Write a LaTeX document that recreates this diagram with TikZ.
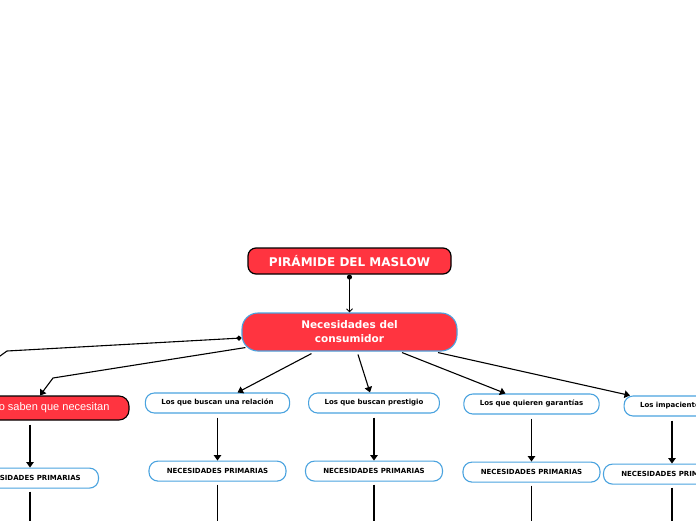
\documentclass[tikz,border=0pt]{standalone}
\usepackage{fontspec}
\setmainfont{DejaVu Sans}
\newfontfamily\arialfont{Liberation Sans}
\usepackage{tikz}
\usetikzlibrary{arrows.meta, positioning, calc}
\definecolor{mapred}{RGB}{255,52,64}
\definecolor{mapblue}{RGB}{74,163,223}

\begin{document}
\begin{tikzpicture}[
    x=1pt, y=-1pt,
    node distance=47pt,
    titlebox/.style={draw=black, fill=mapred, text=white, line width=1.2pt, rounded corners=8pt,
        minimum width=203pt, minimum height=26pt, font=\bfseries\fontsize{12}{14}\selectfont},
    mainbox/.style={draw=mapblue, fill=mapred, text=white, line width=1.1pt, rounded corners=16pt,
        align=center, minimum width=215pt, minimum height=38pt, font=\bfseries\fontsize{10.5}{14}\selectfont},
    redbox/.style={draw=black, fill=mapred, text=white, line width=1.1pt, rounded corners=10pt,
        minimum width=198pt, minimum height=24pt, font=\arialfont\fontsize{11}{13}\selectfont},
    subbox/.style={draw=mapblue, fill=white, line width=1.1pt, rounded corners=9pt,
        inner xsep=16pt, inner ysep=0pt, minimum height=20pt, text height=5.2pt, text depth=1.4pt,
        font=\bfseries\fontsize{7}{8}\selectfont},
    link/.style={line width=1.1pt},
    arrow/.style={-{Triangle[length=5.5pt, width=7.5pt]}, line width=1.1pt}
]
\useasboundingbox (0,0) rectangle (696,520);
\clip (0,0) rectangle (696,520);
\fill[white] (0,0) rectangle (696,520);

% Nodes
\node[titlebox] (maslow) at (349.5,261) {PIRÁMIDE DEL MASLOW};
\node[mainbox] (need) at (349.5,332) {Necesidades del\\ consumidor};

\node[redbox] (unaware) at (30,408) {Los que no saben que necesitan};
\node[subbox] (relation) at (217.5,403) {Los que buscan una relación};
\node[subbox] (prestige) at (374,403) {Los que buscan prestigio};
\node[subbox] (warranty) at (531.5,404) {Los que quieren garantías};
\node[subbox] (impatient) at (672,406) {Los impacientes};

\node[subbox, minimum width=137pt, below=of unaware] (unaware2) {NECESIDADES PRIMARIAS};
\node[subbox, minimum width=137pt, below=of relation] (relation2) {NECESIDADES PRIMARIAS};
\node[subbox, minimum width=137pt, below=of prestige] (prestige2) {NECESIDADES PRIMARIAS};
\node[subbox, minimum width=137pt, below=of warranty] (warranty2) {NECESIDADES PRIMARIAS};
\node[subbox, minimum width=137pt, below=of impatient] (impatient2) {NECESIDADES PRIMARIAS};

% Off-page ends
\coordinate (leftbend) at (7,351);
\coordinate (leftend) at (-25,374);
\coordinate (unawarebend) at (53,378);
\coordinate[below=50pt of unaware2] (unaware3);
\coordinate[below=50pt of relation2] (relation3);
\coordinate[below=50pt of prestige2] (prestige3);
\coordinate[below=50pt of warranty2] (warranty3);
\coordinate[below=50pt of impatient2] (impatient3);

% Arrows
\draw[{Circle[length=5pt]}-{Straight Barb[length=3pt, width=6pt]}, line width=1pt] (maslow.south) -- (need.north);

\draw[link, {Circle[length=5pt]}-] ([yshift=-6pt]need.west) -- (leftbend) -- (leftend);
\draw[arrow] ($(need.south west)+(4,-4)$) -- (unawarebend) -- ([xshift=10pt]unaware.north);
\draw[arrow] ($(need.south)+(-38,2)$) -- ([xshift=20pt]relation.north);
\draw[arrow] ($(need.south)+(8.5,3)$) -- ([xshift=-4pt]prestige.north);
\draw[arrow] ($(need.south)+(52.5,1)$) -- ([xshift=-26pt]warranty.north);
\draw[arrow] ($(need.south)+(88.5,1)$) -- ([xshift=-42pt]impatient.north);

\foreach \n in {unaware, relation, prestige, warranty, impatient} {
    \draw[arrow, shorten <=4pt] (\n.south) -- (\n2.north);
    \draw[link, shorten <=3pt] (\n2.south) -- (\n3);
}

\end{tikzpicture}
\end{document}
